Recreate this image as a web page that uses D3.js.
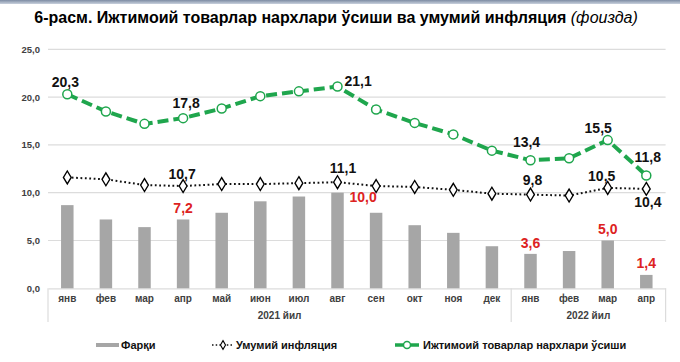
<!DOCTYPE html>
<html>
<head>
<meta charset="utf-8">
<script src="https://cdn.jsdelivr.net/npm/d3@7"></script>
<style>
  body { margin: 0; background: #fff; }
  svg { display: block; font-family: "Liberation Sans", Arial, sans-serif; }
</style>
</head>
<body>
<div id="chart"></div>
<script>
'use strict';

// months and year groups
var months = ['янв', 'фев', 'мар', 'апр', 'май', 'июн', 'июл', 'авг', 'сен', 'окт', 'ноя', 'дек',
  'янв', 'фев', 'мар', 'апр'];
var years = [{ label: '2021 йил', from: 0, to: 11 }, { label: '2022 йил', from: 12, to: 15 }];

// series (per cent)
var diff = [8.7, 7.2, 6.4, 7.2, 7.9, 9.1, 9.6, 10.0, 7.9, 6.6, 5.8, 4.4, 3.6, 3.9, 5.0, 1.4];
var inflation = [11.6, 11.4, 10.8, 10.7, 10.9, 10.9, 11.0, 11.1, 10.7, 10.6, 10.3, 9.9, 9.8, 9.7, 10.5, 10.4];
var social = [20.3, 18.5, 17.2, 17.8, 18.8, 20.1, 20.6, 21.1, 18.7, 17.3, 16.1, 14.4, 13.4, 13.6, 15.5, 11.8];

var yTicks = [0, 5, 10, 15, 20, 25];

// which points carry a value label
var diffLabelIdx = [3, 7, 12, 14, 15];
var inflLabelIdx = [3, 7, 12, 14, 15];
var socialLabelIdx = [0, 3, 7, 12, 14, 15];

var seriesNames = ['Фарқи', 'Умумий инфляция', 'Ижтимоий товарлар нархлари ўсиши'];

var W = 680, H = 362;
var green = '#1fa64d', barColor = '#a6a6a6', red = '#dd2222', grid = '#dcdcdc';

var svg = d3.select('#chart').append('svg').attr('width', W).attr('height', H);

// top band
var grad = svg.append('defs').append('linearGradient').attr('id', 'topband')
  .attr('x1', 0).attr('x2', 0).attr('y1', 0).attr('y2', 1);
grad.append('stop').attr('offset', '0%').attr('stop-color', '#7d8ca3');
grad.append('stop').attr('offset', '100%').attr('stop-color', '#c9d1dd');
svg.append('rect').attr('x', 0).attr('y', 0).attr('width', W).attr('height', 4).attr('fill', 'url(#topband)');

// title
var title = svg.append('text').attr('x', 336).attr('y', 23).attr('text-anchor', 'middle')
  .style('font-size', '16px').attr('fill', '#000');
title.append('tspan').style('font-weight', 'bold')
  .text('6-расм. Ижтимоий товарлар нархлари ўсиши ва умумий инфляция ');
title.append('tspan').style('font-style', 'italic').text('(фоизда)');

var x = d3.scaleBand().domain(d3.range(months.length)).range([48, 665.6]).padding(0);
var y = d3.scaleLinear().domain([0, 25]).range([288.3, 49.3]);
var cx = function (i) { return x(i) + x.bandwidth() / 2; };

// grid + y axis
var yAxis = d3.axisLeft(y).tickValues(yTicks).tickSize(0).tickPadding(8)
  .tickFormat(function (d) { return d3.format('.1f')(d).replace('.', ','); });
var yg = svg.append('g').attr('transform', 'translate(48,0)').call(yAxis);
yg.select('.domain').remove();
yg.selectAll('text').style('font-size', '9.5px').style('font-weight', 'bold').attr('fill', '#404040');

svg.append('g').selectAll('line').data(yTicks.filter(function (t) { return t > 0; })).enter()
  .append('line').attr('x1', 48).attr('x2', 665.6)
  .attr('y1', function (d) { return y(d); }).attr('y2', function (d) { return y(d); })
  .attr('stroke', grid).attr('stroke-width', 1.2);

// x axis
var xAxis = d3.axisBottom(x).tickSize(0).tickPadding(6.5).tickFormat(function (i) { return months[i]; });
var xg = svg.append('g').attr('transform', 'translate(0,' + y(0) + ')').call(xAxis);
xg.select('.domain').attr('stroke', grid).attr('stroke-width', 1.2);
xg.selectAll('text').style('font-size', '10px').style('font-weight', 'bold').attr('fill', '#404040');

// year separators and labels
var seps = [0, 12, months.length];
svg.append('g').selectAll('line').data(seps).enter().append('line')
  .attr('x1', function (i) { return i < months.length ? x(i) : x.range()[1]; })
  .attr('x2', function (i) { return i < months.length ? x(i) : x.range()[1]; })
  .attr('y1', y(0)).attr('y2', 322).attr('stroke', grid).attr('stroke-width', 1.2);

svg.append('g').selectAll('text').data(years).enter().append('text')
  .attr('x', function (d) { return (x(d.from) + x(d.to) + x.bandwidth()) / 2; })
  .attr('y', 318.5).attr('text-anchor', 'middle')
  .style('font-size', '10px').style('font-weight', 'bold').attr('fill', '#404040')
  .text(function (d) { return d.label; });

// bars
var bw = 12.5;
svg.append('g').selectAll('rect').data(diff).enter().append('rect')
  .attr('x', function (d, i) { return cx(i) - bw / 2; })
  .attr('y', function (d) { return y(d); })
  .attr('width', bw)
  .attr('height', function (d) { return y(0) - y(d); })
  .attr('fill', barColor);

// inflation line
var line = d3.line().x(function (d, i) { return cx(i); }).y(function (d) { return y(d); });
svg.append('path').datum(inflation).attr('d', line).attr('fill', 'none')
  .attr('stroke', '#111').attr('stroke-width', 2).attr('stroke-dasharray', '1.8,2.6');
var dia = d3.symbol().type(d3.symbolDiamond).size(48);
svg.append('g').selectAll('path').data(inflation).enter().append('path')
  .attr('d', dia)
  .attr('transform', function (d, i) { return 'translate(' + cx(i) + ',' + y(d) + ') scale(1.05,1)'; })
  .attr('fill', '#fff').attr('stroke', '#000').attr('stroke-width', 1.3);

// social goods line
svg.append('path').datum(social).attr('d', line).attr('fill', 'none')
  .attr('stroke', green).attr('stroke-width', 4).attr('stroke-dasharray', '11,5');
svg.append('g').selectAll('circle').data(social).enter().append('circle')
  .attr('cx', function (d, i) { return cx(i); }).attr('cy', function (d) { return y(d); })
  .attr('r', 4.5).attr('fill', '#fff').attr('stroke', green).attr('stroke-width', 1.5);

// value labels
var fmt = function (v) { return d3.format('.1f')(v).replace('.', ','); };
var nudge = {
  social: { 0: [-2, -7.5], 3: [3, -10.5], 7: [7, -1, 'start'], 12: [-4, -13], 14: [-9.5, -7], 15: [1.5, -13] },
  infl: { 3: [-1, -7.5], 7: [5.5, -8.7], 12: [2, -10], 14: [-6, -7], 15: [1.5, 18] },
  diff: { 3: [0, -6], 7: [12, 9.5, 'start'], 12: [0, -5.5], 14: [0, -6.3], 15: [0, -6.6] }
};

function labels(idx, values, key, color) {
  svg.append('g').selectAll('text').data(idx).enter().append('text')
    .attr('x', function (i) { return cx(i) + nudge[key][i][0]; })
    .attr('y', function (i) { return y(values[i]) + nudge[key][i][1]; })
    .attr('text-anchor', function (i) { return nudge[key][i][2] || 'middle'; })
    .style('font-size', '14px').style('font-weight', 'bold').attr('fill', color)
    .text(function (i) { return fmt(values[i]); });
}
labels(socialLabelIdx, social, 'social', '#111');
labels(inflLabelIdx, inflation, 'infl', '#111');
labels(diffLabelIdx, diff, 'diff', red);

// legend
var lg = svg.append('g').attr('transform', 'translate(0,345)');
lg.append('rect').attr('x', 96).attr('y', -2).attr('width', 23).attr('height', 4).attr('fill', barColor);
lg.append('line').attr('x1', 212).attr('x2', 234).attr('y1', 0).attr('y2', 0)
  .attr('stroke', '#111').attr('stroke-width', 1.6).attr('stroke-dasharray', '1.5,2.2');
lg.append('path').attr('d', d3.symbol().type(d3.symbolDiamond).size(22)).attr('transform', 'translate(223,0)')
  .attr('fill', '#fff').attr('stroke', '#000').attr('stroke-width', 1.1);
lg.append('line').attr('x1', 395).attr('x2', 419).attr('y1', 0).attr('y2', 0)
  .attr('stroke', green).attr('stroke-width', 3.5);
lg.append('circle').attr('cx', 407).attr('cy', 0).attr('r', 3.5).attr('fill', '#fff')
  .attr('stroke', green).attr('stroke-width', 1.5);
lg.selectAll('text.leg').data([121, 236, 423]).enter().append('text').attr('class', 'leg')
  .attr('x', function (d) { return d; }).attr('y', 0).attr('dy', '0.36em')
  .style('font-size', '11px').style('font-weight', 'bold').attr('fill', '#111')
  .text(function (d, i) { return seriesNames[i]; });
</script>
</body>
</html>
